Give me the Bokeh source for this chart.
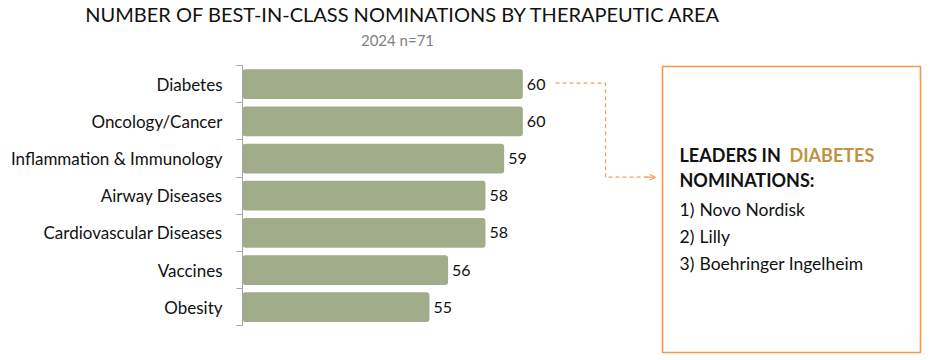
from bokeh.plotting import figure
from bokeh.models import (Range1d, LinearAxis, FixedTicker, BoxAnnotation,
                          Arrow, OpenHead, ColumnDataSource)
from bokeh.core.properties import value
from bokeh.embed import file_html
from bokeh.resources import INLINE

# ---------------- data ----------------
categories = ["Diabetes", "Oncology/Cancer", "Inflammation & Immunology",
              "Airway Diseases", "Cardiovascular Diseases", "Vaccines", "Obesity"]
nominations = [60, 60, 59, 58, 58, 56, 55]
title_text = "NUMBER OF BEST-IN-CLASS NOMINATIONS BY THERAPEUTIC AREA"
subtitle_text = "2024 n=71"
heading_1 = "LEADERS IN"
heading_focus = "DIABETES"
heading_2 = "NOMINATIONS:"
leaders = ["Novo Nordisk", "Lilly", "Boehringer Ingelheim"]

# ---------------- layout helpers (page pixels -> data) ----------------
FONT = "Lato"
W, H = 926, 356
AXIS_MIN = 45
K = 18.69          # px per unit
AXIS_PX = 242
ROW_PX = 37.17
ROW0_PX = 83.7


def fx(px):
    return AXIS_MIN + (px - AXIS_PX) / K


def fy(py):
    return (py - ROW0_PX) / ROW_PX


BAR = "#A1AD8A"
ORANGE = "#F79646"
ORANGE_L = "#F59E5E"
GOLD = "#BF9344"
INK = "#111111"

p = figure(width=W, height=H, output_backend="svg", toolbar_location=None,
           x_range=Range1d(fx(0), fx(W)), y_range=Range1d(fy(H), fy(0)),
           x_axis_type=None, y_axis_type=None, min_border=0)
p.outline_line_color = None
p.xgrid.visible = False
p.ygrid.visible = False

idx = list(range(len(categories)))
src = ColumnDataSource(dict(idx=idx, val=nominations, lab=[str(v) for v in nominations]))
p.hbar(y="idx", left=AXIS_MIN, right="val", height=0.8, source=src,
       fill_color=BAR, line_color=None, border_radius=3)
p.text(x="val", y="idx", text="lab", source=src, x_offset=4, text_baseline="middle",
       text_font=value(FONT), text_font_size="16px", text_color=INK)

yaxis = LinearAxis(fixed_location=AXIS_MIN,
                   ticker=FixedTicker(ticks=idx, minor_ticks=[i - 0.5 for i in range(len(categories) + 1)]),
                   bounds=(-0.5, len(categories) - 0.5),
                   major_label_overrides={i: c for i, c in enumerate(categories)})
yaxis.axis_line_color = "#A6A6A6"
yaxis.minor_tick_line_color = "#A6A6A6"
yaxis.minor_tick_out = 6
yaxis.minor_tick_in = 0
yaxis.major_tick_out = 0
yaxis.major_tick_in = 0
yaxis.major_label_standoff = 14
yaxis.major_label_text_font = FONT
yaxis.major_label_text_font_size = "17px"
yaxis.major_label_text_color = INK
p.add_layout(yaxis, "left")


def txt(px, py, s, size, color=INK, align="left", style="normal"):
    p.text(x=[fx(px)], y=[fy(py)], text=[s], text_align=align, text_baseline="middle",
           text_font=value(FONT), text_font_size=size, text_color=color,
           text_font_style=style)


# titles
txt(403, 13, title_text, "20px", align="center")
txt(397, 39, subtitle_text, "15px", color="#7F7F7F", align="center")

# callout box
p.add_layout(BoxAnnotation(left=fx(662), right=fx(920), top=fy(66), bottom=fy(352),
                           fill_alpha=0, line_color=ORANGE, line_alpha=1, line_width=1.6))

# connector
p.line(x=[fx(555), fx(605), fx(605), fx(650)], y=[fy(82.7)] * 2 + [fy(176.7)] * 2,
       line_color=ORANGE_L, line_width=1.2, line_dash="4 3")
p.add_layout(Arrow(x_start=fx(645), y_start=fy(176.7), x_end=fx(655), y_end=fy(176.7),
                   line_color=ORANGE_L, line_width=1.2,
                   end=OpenHead(size=6, line_color=ORANGE_L, line_width=1.2)))

# box text
txt(679, 154.5, heading_1, "18px", style="bold")
txt(789, 154.5, heading_focus, "18px", color=GOLD, style="bold")
txt(679, 179.2, heading_2, "18px", style="bold")
for i, name in enumerate(leaders):
    yc = 208.8 + i * 26.9
    txt(679, yc, f"{i + 1})", "17.5px")
    txt(699, yc, name, "17.5px")

open("out.html", "w").write(file_html(p, INLINE))
